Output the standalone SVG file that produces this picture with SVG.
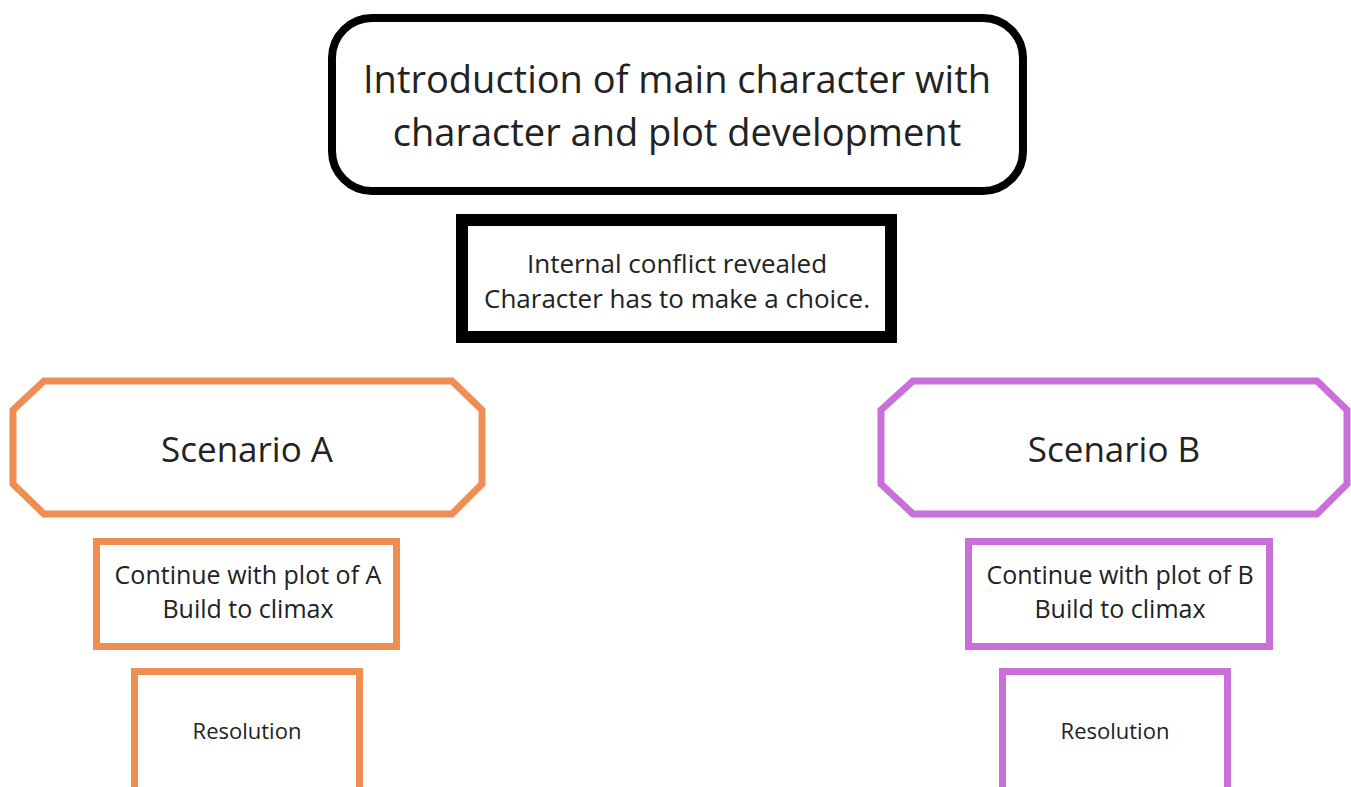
<svg xmlns="http://www.w3.org/2000/svg" width="1351" height="787" viewBox="0 0 1351 787">
<style>
text{font-family:"Open Sans","Noto Sans","Liberation Sans",sans-serif;fill:#222;text-anchor:middle}
.big{font-size:38px}
.mid{font-size:26px}
.pl{font-size:25px}
.sc{font-size:35px}
.sm{font-size:22px}
.a{fill:#fff;stroke:#EE8E52}
.b{fill:#fff;stroke:#C96FD9}
</style>
<rect width="1351" height="787" fill="#fff"/>
<g id="intro">
<rect x="332" y="18" width="691" height="173" rx="40" fill="#fff" stroke="#000" stroke-width="8"/>
<text class="big" x="677" y="93">Introduction of main character with</text>
<text class="big" x="677" y="146">character and plot development</text>
</g>
<g id="conflict">
<rect x="462" y="220" width="429" height="117" fill="#fff" stroke="#000" stroke-width="12"/>
<text class="mid" x="677" y="273">Internal conflict revealed</text>
<text class="mid" x="677" y="308">Character has to make a choice.</text>
</g>
<g id="scenarioA">
<polygon class="a" stroke-width="7" points="44,381 452,381 482,410 482,484 452,514 44,514 13,484 13,410"/>
<text class="sc" x="247" y="462">Scenario A</text>
</g>
<g id="scenarioB">
<polygon class="b" stroke-width="7" points="913,381 1317,381 1347,410 1347,484 1317,514 913,514 881,484 881,410"/>
<text class="sc" x="1114" y="462">Scenario B</text>
</g>
<g id="plotA">
<rect class="a" x="96.5" y="541.5" width="300" height="105" stroke-width="7"/>
<text class="pl" x="248" y="584">Continue with plot of A</text>
<text class="pl" x="248" y="618">Build to climax</text>
</g>
<g id="plotB">
<rect class="b" x="968.5" y="541.5" width="301" height="105" stroke-width="7"/>
<text class="pl" x="1120" y="584">Continue with plot of B</text>
<text class="pl" x="1120" y="618">Build to climax</text>
</g>
<g id="resolutionA">
<rect class="a" x="134.5" y="671.5" width="225" height="125" stroke-width="7"/>
<text class="sm" x="247" y="739">Resolution</text>
</g>
<g id="resolutionB">
<rect class="b" x="1002.5" y="671.5" width="225" height="125" stroke-width="7"/>
<text class="sm" x="1115" y="739">Resolution</text>
</g>
<g id="connectors"></g>
</svg>
